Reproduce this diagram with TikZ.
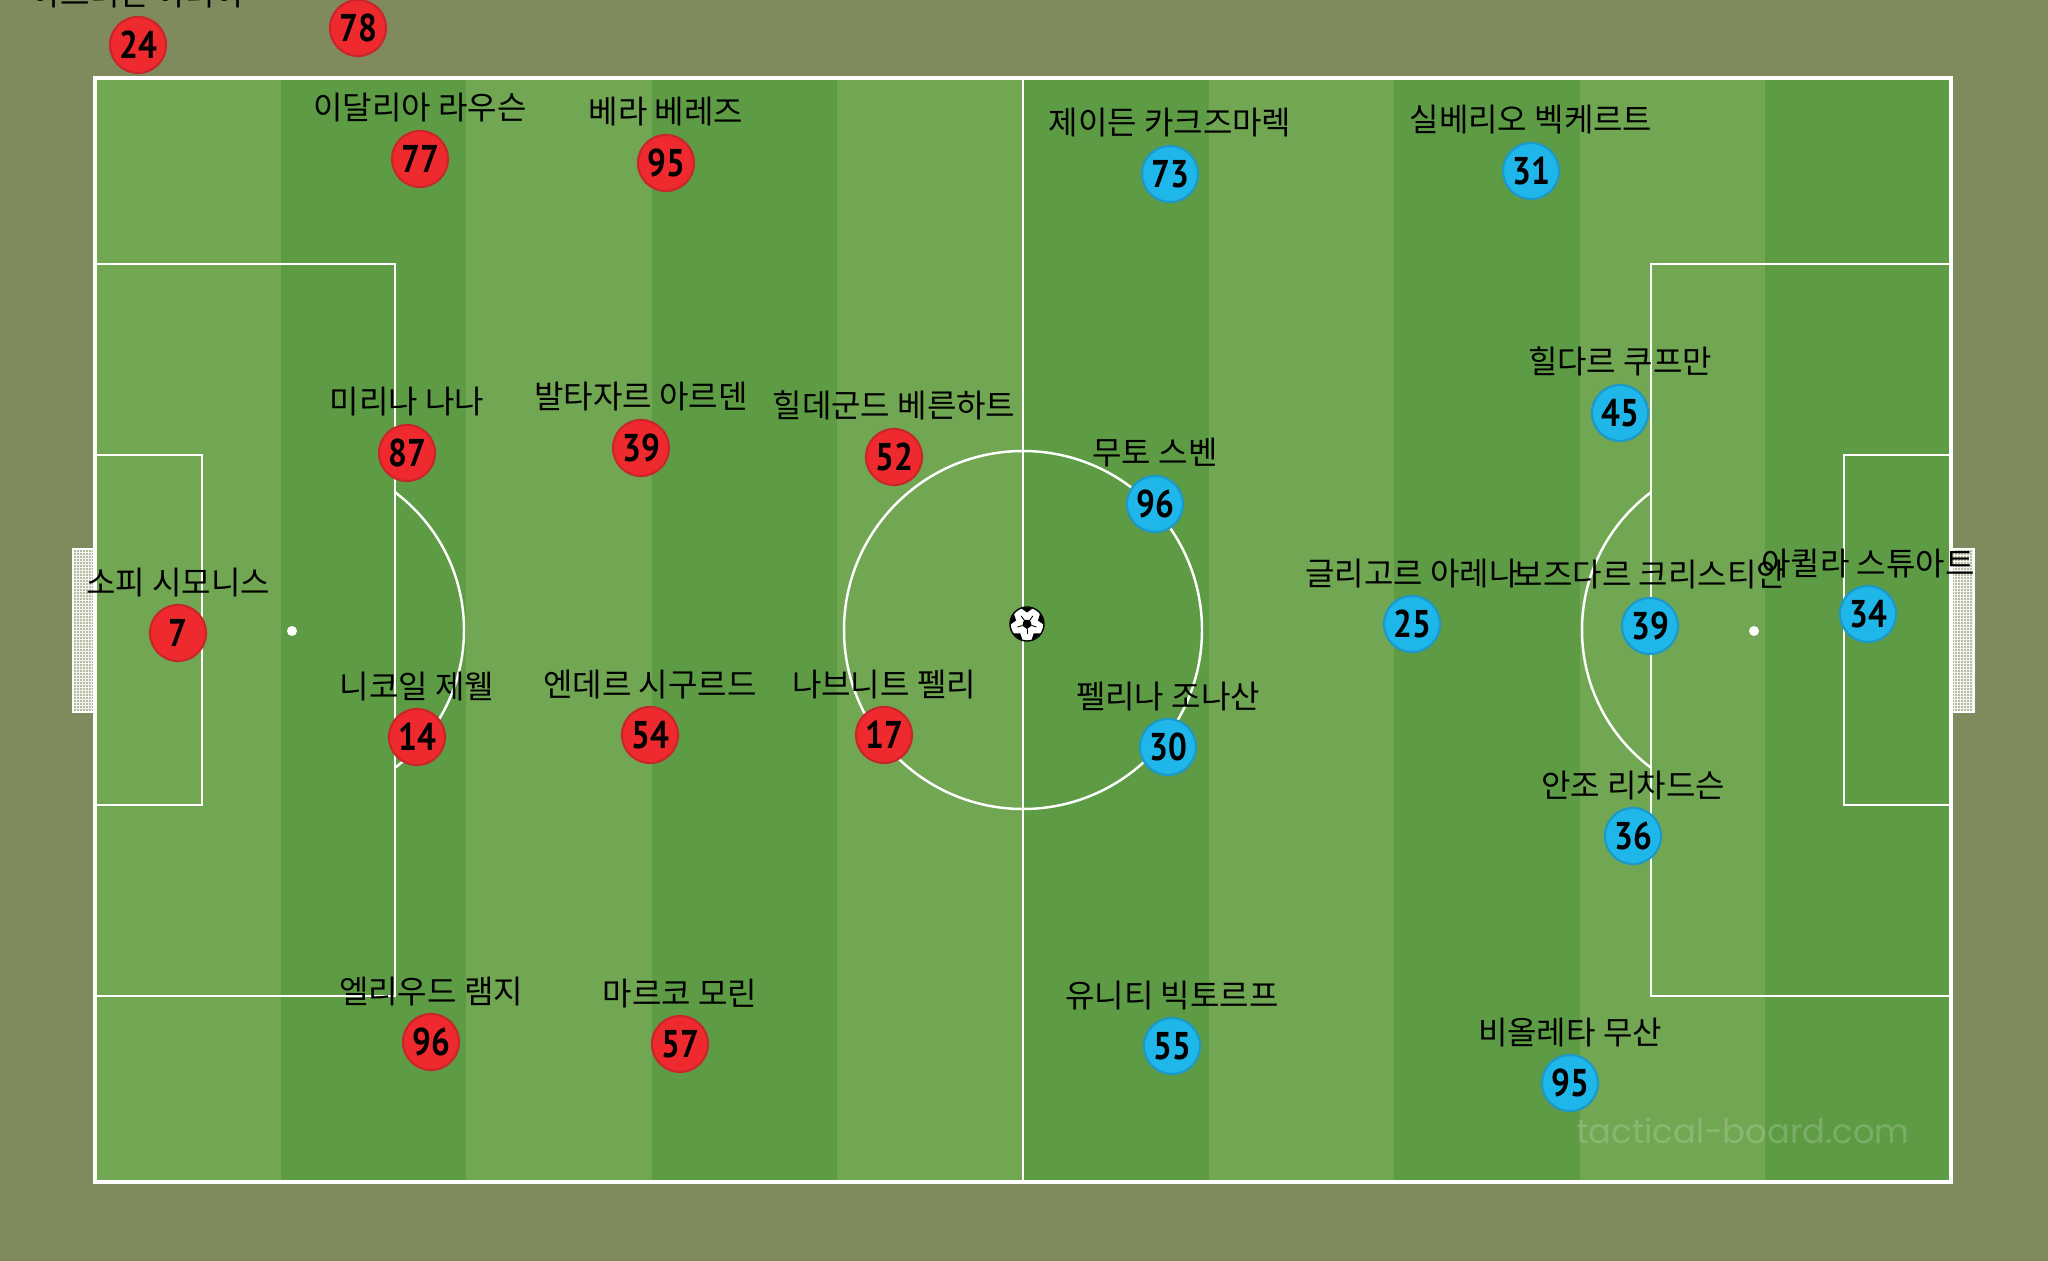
\documentclass[tikz,border=0pt]{standalone}
\usepackage{fontspec}
\newfontfamily\krfont{Noto Sans CJK KR}
\newfontfamily\numfont[FakeStretch=0.86]{PT Sans}
\newfontfamily\markfont{Poppins}
\usetikzlibrary{calc}

\definecolor{surround}{HTML}{7F8B5C}
\definecolor{grassLight}{HTML}{71A653}
\definecolor{grassDark}{HTML}{5D9C45}
\definecolor{redFill}{HTML}{EE2A2E}
\definecolor{redEdge}{HTML}{C8262A}
\definecolor{blueFill}{HTML}{1FB7EA}
\definecolor{blueEdge}{HTML}{1C98C9}
\definecolor{netFill}{HTML}{B4BCA2}

\tikzset{
    pitchLine/.style={draw=white, line width=0.7pt},
    netMesh/.style={draw=white!85!netFill, line width=0.2pt},
    player/.style={circle, minimum size=0.56cm, inner sep=0pt, line width=0.6pt,
        font=\numfont\bfseries\fontsize{11}{12}\selectfont, text=black},
    redPlayer/.style={player, fill=redFill, draw=redEdge},
    bluePlayer/.style={player, fill=blueFill, draw=blueEdge},
    playerName/.style={anchor=base, inner sep=0pt, font=\krfont\fontsize{9.1}{11}\selectfont, text=black},
    ball/.style={circle, minimum size=0.34cm, inner sep=0pt, fill=white, draw=black, line width=0.4pt},
    watermark/.style={text=white, text opacity=0.18, font=\markfont\fontsize{9.6}{11}\selectfont}
}

\begin{document}
\begin{tikzpicture}[x=0.01cm, y=-0.01cm]
    \useasboundingbox (0,0) rectangle (2048,1261);
    \clip (0,0) rectangle (2048,1261);
    \fill[surround] (0,0) rectangle (2048,1261);

    % grass
    \fill[grassDark] (95,78) rectangle (1951,1182);
    \foreach \i in {0,2,...,8}
        \fill[grassLight] ({95+185.6*\i},78) rectangle ({280.6+185.6*\i},1182);

    % goals
    \foreach \xa in {73,1951} {
        \fill[netFill] (\xa,549) rectangle ++(23,163);
        \foreach \d in {3,6,...,21}
            \draw[netMesh] (\xa+\d,549) -- ++(0,163);
        \foreach \d in {3,6,...,162}
            \draw[netMesh] (\xa,549+\d) -- ++(23,0);
        \draw[pitchLine] (\xa,549) rectangle ++(23,163);
    }

    % markings
    \draw[pitchLine, line width=0.9pt] (95,78) rectangle (1951,1182);
    \draw[pitchLine] (1023,78) -- (1023,1182);
    \draw[pitchLine] (1023,630) circle[radius=179];
    \draw[pitchLine] (95,264) rectangle (395,996);
    \draw[pitchLine] (95,455) rectangle (202,805);
    \draw[pitchLine] (1651,264) rectangle (1951,996);
    \draw[pitchLine] (1844,455) rectangle (1951,805);
    \begin{scope}
        \clip (395,0) rectangle (1023,1261);
        \draw[pitchLine] (292,630) circle[radius=172];
    \end{scope}
    \begin{scope}
        \clip (1023,0) rectangle (1651,1261);
        \draw[pitchLine] (1754,630) circle[radius=172];
    \end{scope}
    \fill[white] (292,631) circle[radius=5];
    \fill[white] (1754,631) circle[radius=5];

    % ball
    \node[ball] (ball) at (1027,624) {};
    \fill (ball.center) +(90:5) -- +(162:5) -- +(234:5) -- +(306:5) -- +(18:5) -- cycle;
    \begin{scope}
        \clip (ball.center) circle[radius=16.5];
        \foreach \a in {54,126,198,270,342}
            \fill ($(ball.center)+(\a:17.5)$) +({\a+180}:6) -- +({\a+252}:6) -- +({\a+324}:6) -- +({\a+36}:6) -- +({\a+108}:6) -- cycle;
    \end{scope}
    \foreach \a in {18,90,162,234,306}
        \draw[line width=0.25pt] (ball.center) +(\a:5) -- +(\a:10);

    \node[watermark] (siteMark) at (1743,1131) {tactical-board.com};

    % red team
    \node[playerName] (redName24) at (138,6) {아드리안 아리아};
    \node[redPlayer] (red24) at (138,45) {24};
    \node[redPlayer] (red78) at (358,28) {78};
    \node[playerName] (redName77) at (420,120) {이달리아 라우슨};
    \node[redPlayer] (red77) at (420,159) {77};
    \node[playerName] (redName95) at (666,124) {베라 베레즈};
    \node[redPlayer] (red95) at (666,163) {95};
    \node[playerName] (redName87) at (407,414) {미리나 나나};
    \node[redPlayer] (red87) at (407,453) {87};
    \node[playerName] (redName39) at (641,409) {발타자르 아르덴};
    \node[redPlayer] (red39) at (641,448) {39};
    \node[playerName] (redName52) at (894,418) {힐데군드 베른하트};
    \node[redPlayer] (red52) at (894,457) {52};
    \node[playerName] (redName7) at (178,594) {소피 시모니스};
    \node[redPlayer] (red7) at (178,633) {7};
    \node[playerName] (redName14) at (417,698) {니코일 제웰};
    \node[redPlayer] (red14) at (417,737) {14};
    \node[playerName] (redName54) at (650,696) {엔데르 시구르드};
    \node[redPlayer] (red54) at (650,735) {54};
    \node[playerName] (redName17) at (884,696) {나브니트 펠리};
    \node[redPlayer] (red17) at (884,735) {17};
    \node[playerName] (redName96) at (431,1003) {엘리우드 램지};
    \node[redPlayer] (red96) at (431,1042) {96};
    \node[playerName] (redName57) at (680,1005) {마르코 모린};
    \node[redPlayer] (red57) at (680,1044) {57};

    % blue team
    \node[playerName] (blueName73) at (1170,135) {제이든 카크즈마렉};
    \node[bluePlayer] (blue73) at (1170,174) {73};
    \node[playerName] (blueName31) at (1531,132) {실베리오 벡케르트};
    \node[bluePlayer] (blue31) at (1531,171) {31};
    \node[playerName] (blueName45) at (1620,374) {힐다르 쿠프만};
    \node[bluePlayer] (blue45) at (1620,413) {45};
    \node[playerName] (blueName96) at (1155,465) {무토 스벤};
    \node[bluePlayer] (blue96) at (1155,504) {96};
    \node[playerName] (blueName25) at (1412,585) {글리고르 아레나};
    \node[bluePlayer] (blue25) at (1412,624) {25};
    \node[playerName] (blueName39) at (1650,587) {보즈다르 크리스티안};
    \node[bluePlayer] (blue39) at (1650,626) {39};
    \node[playerName] (blueName34) at (1868,575) {아퀼라 스튜아트};
    \node[bluePlayer] (blue34) at (1868,614) {34};
    \node[playerName] (blueName30) at (1168,708) {펠리나 조나산};
    \node[bluePlayer] (blue30) at (1168,747) {30};
    \node[playerName] (blueName36) at (1633,797) {안조 리차드슨};
    \node[bluePlayer] (blue36) at (1633,836) {36};
    \node[playerName] (blueName55) at (1172,1007) {유니티 빅토르프};
    \node[bluePlayer] (blue55) at (1172,1046) {55};
    \node[playerName] (blueName95) at (1570,1044) {비올레타 무산};
    \node[bluePlayer] (blue95) at (1570,1083) {95};
\end{tikzpicture}
\end{document}
